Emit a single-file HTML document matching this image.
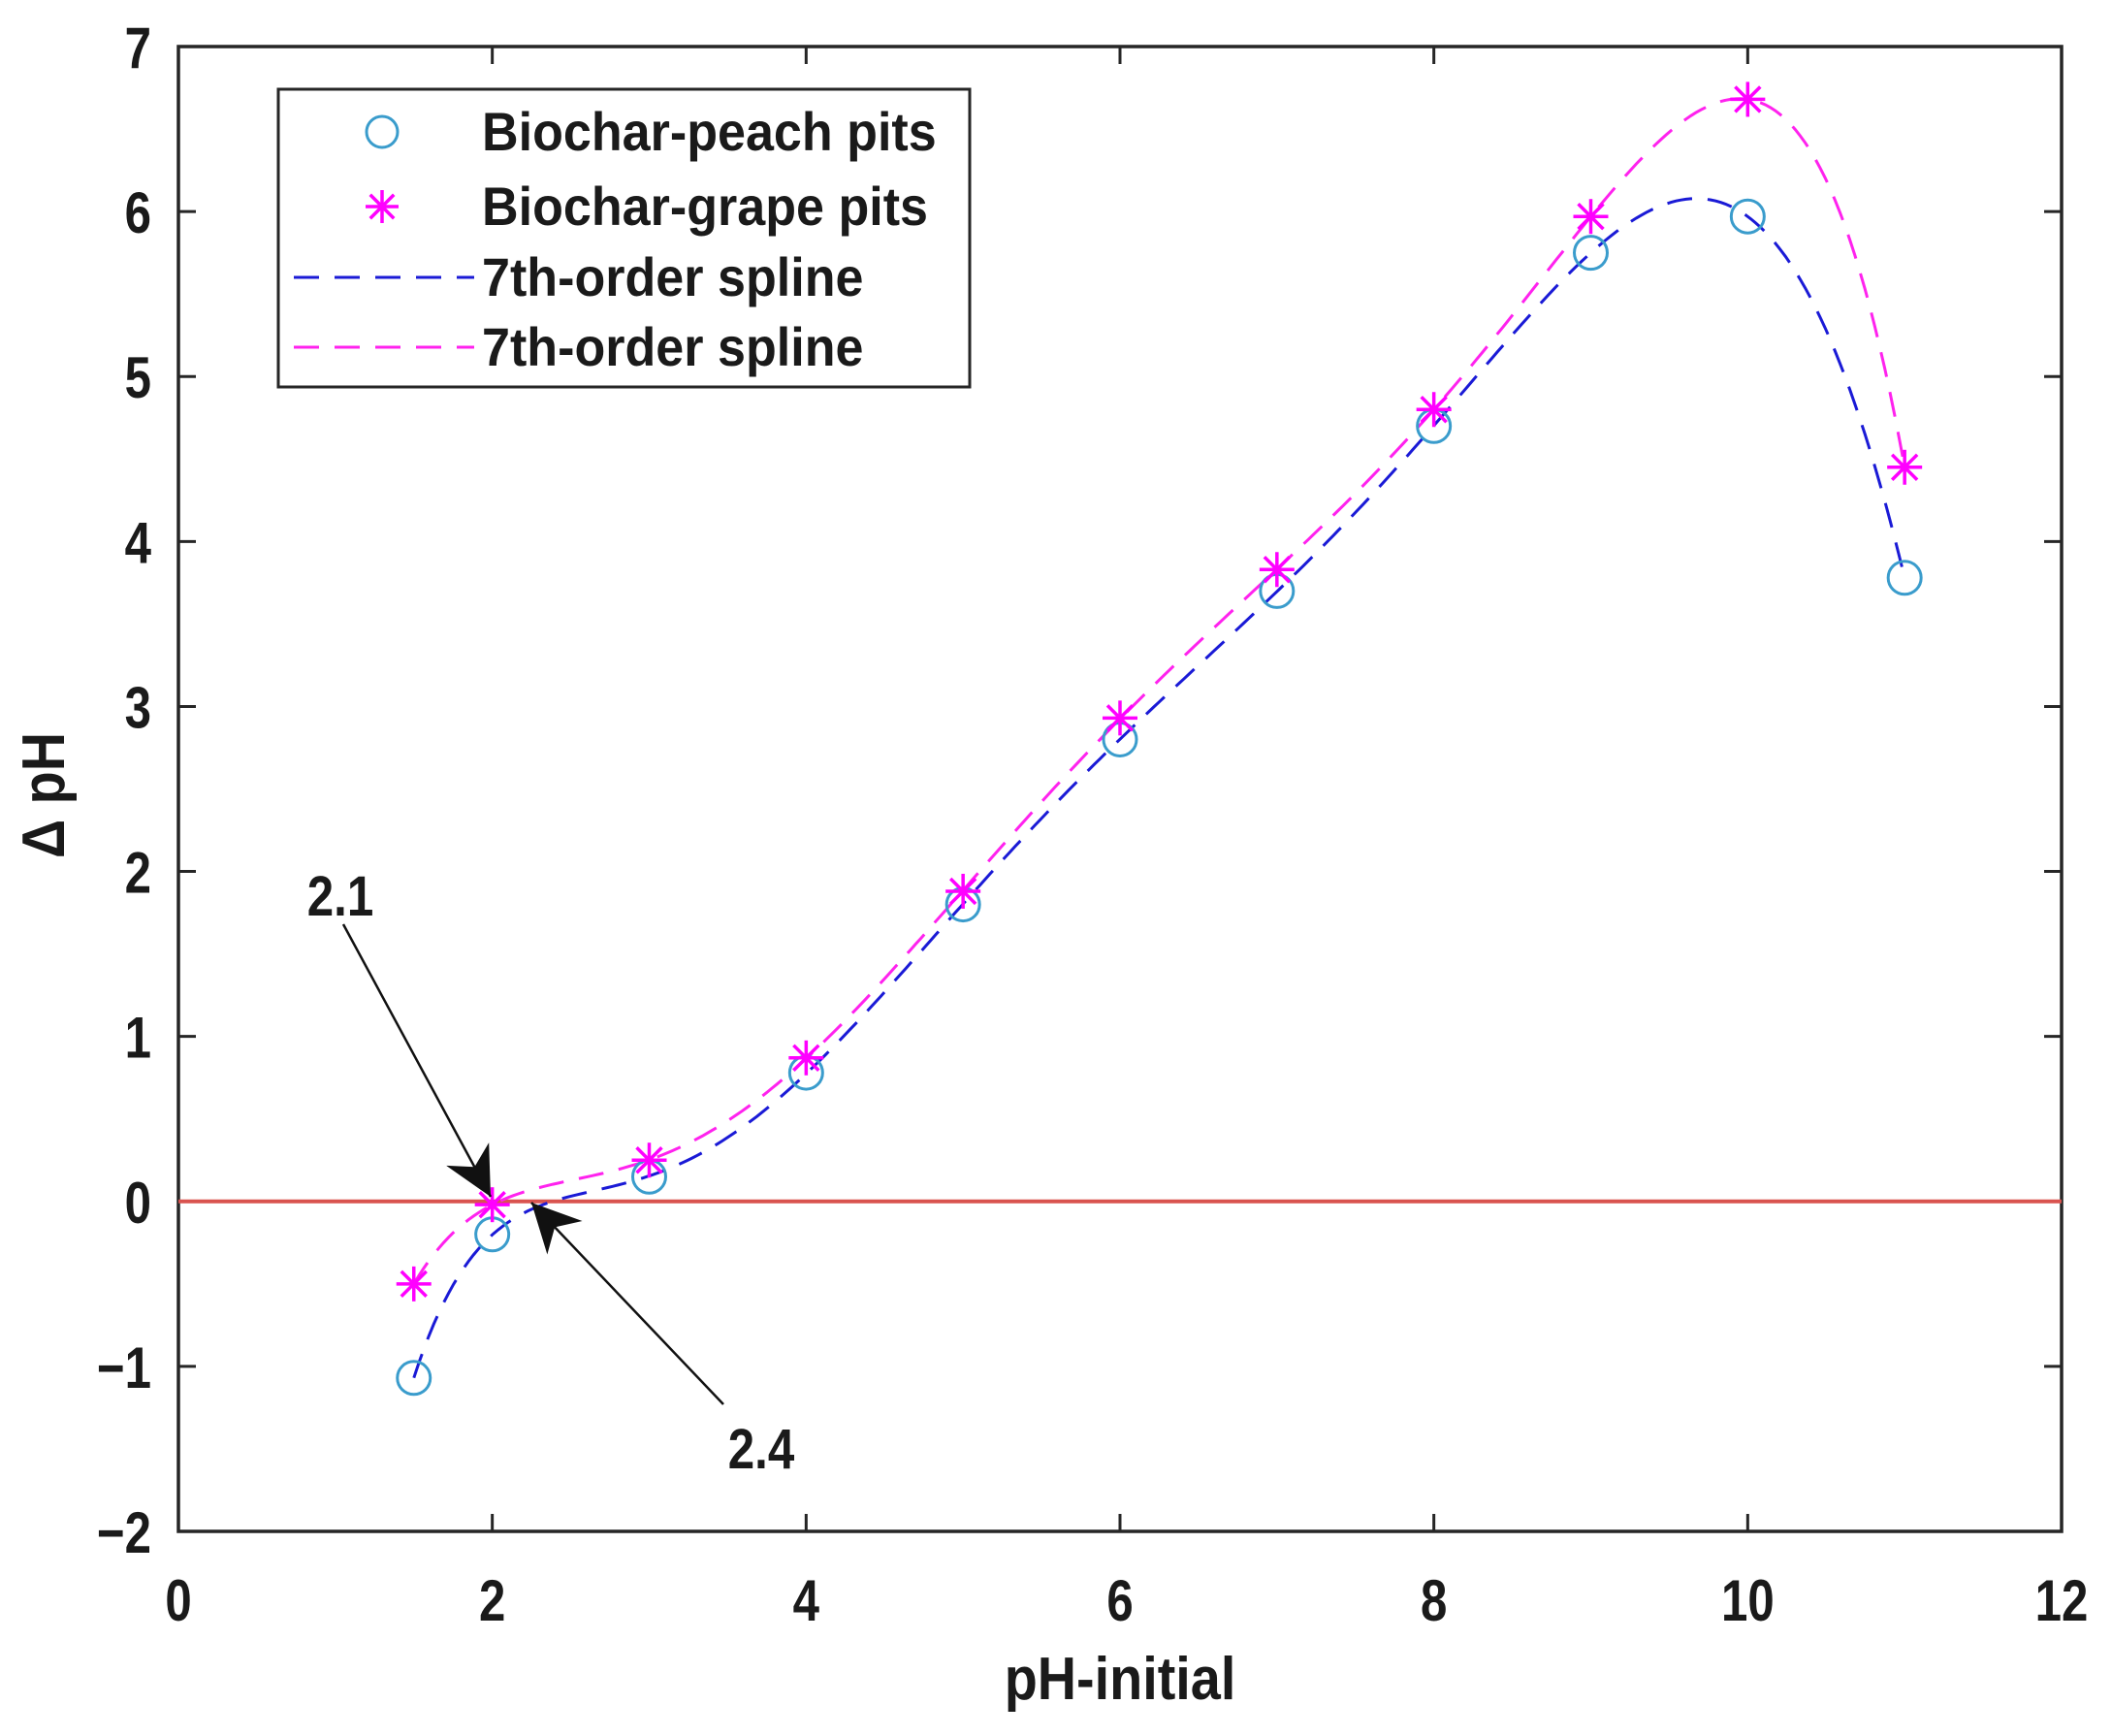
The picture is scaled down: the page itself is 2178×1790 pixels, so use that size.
<!DOCTYPE html>
<html><head><meta charset="utf-8"><style>
html,body{margin:0;padding:0;background:#fff;}
svg{display:block;}
text{font-family:"Liberation Sans",Arial,sans-serif;font-weight:bold;fill:#1a1a1a;}
</style></head><body>
<svg id="chart" width="2178" height="1790" viewBox="0 0 2178 1790" xmlns="http://www.w3.org/2000/svg">
<rect width="2178" height="1790" fill="#fff"/>
<g id="plot"></g>
</svg>
<script>
const xCats = [1.5, 2, 3, 4, 5, 6, 7, 8, 9, 10, 11];
const peachVals = [-1.07, -0.2, 0.15, 0.78, 1.8, 2.8, 3.7, 4.7, 5.75, 5.97, 3.78];
const grapeVals = [-0.5, -0.02, 0.25, 0.87, 1.88, 2.93, 3.83, 4.8, 5.97, 6.68, 4.45];
const xTicks = [0, 2, 4, 6, 8, 10, 12];
const yTicks = [-2, -1, 0, 1, 2, 3, 4, 5, 6, 7];

const L = 184, R = 2126, T = 48, B = 1579;
const xMin = 0, xMax = 12, yMin = -2, yMax = 7;
function sx(v){ return L + (v - xMin) / (xMax - xMin) * (R - L); }
function sy(v){ return B - (v - yMin) / (yMax - yMin) * (B - T); }

const NS = "http://www.w3.org/2000/svg";
const g = document.getElementById('plot');
function el(tag, attrs, parent){
  const e = document.createElementNS(NS, tag);
  for (const k in attrs) e.setAttribute(k, attrs[k]);
  (parent || g).appendChild(e);
  return e;
}
function ctext(x, y, str, size, anchor, sxf, parent){
  const t = el('text', {x: 0, y: 0, 'font-size': size, 'text-anchor': anchor || 'start',
    transform: 'translate(' + x + ',' + y + ') scale(' + sxf + ',1)'}, parent);
  t.textContent = str;
  return t;
}

function polyfit(xs, ys, deg){
  const m = 6, s = 5;
  const n = deg + 1;
  const A = [];
  for (let i = 0; i < n; i++){ A.push(new Array(n + 1).fill(0)); }
  for (let k = 0; k < xs.length; k++){
    const t = (xs[k] - m) / s;
    const p = [];
    for (let i = 0; i < n; i++) p.push(Math.pow(t, i));
    for (let i = 0; i < n; i++){
      for (let j = 0; j < n; j++) A[i][j] += p[i] * p[j];
      A[i][n] += p[i] * ys[k];
    }
  }
  for (let c = 0; c < n; c++){
    let piv = c;
    for (let r = c + 1; r < n; r++) if (Math.abs(A[r][c]) > Math.abs(A[piv][c])) piv = r;
    [A[c], A[piv]] = [A[piv], A[c]];
    for (let r = 0; r < n; r++){
      if (r === c) continue;
      const f = A[r][c] / A[c][c];
      for (let j = c; j <= n; j++) A[r][j] -= f * A[c][j];
    }
  }
  const coef = A.map((row, i) => row[n] / row[i]);
  return function(x){
    const t = (x - m) / s;
    let v = 0;
    for (let i = n - 1; i >= 0; i--) v = v * t + coef[i];
    return v;
  };
}

const frame = el('rect', {x: L, y: T, width: R - L, height: B - T, fill: 'none', stroke: '#262626', 'stroke-width': 3.5});



xTicks.forEach(v => {
  const x = sx(v);
  const t1 = el('line', {x1: x, y1: B, x2: x, y2: B - 18, stroke: '#262626', 'stroke-width': 3});
  
  
  const t2 = el('line', {x1: x, y1: T, x2: x, y2: T + 18, stroke: '#262626', 'stroke-width': 3});
  
  
  const lb = ctext(x, B + 92, String(v), 60, 'middle', 0.82);
  
  
});
yTicks.forEach(v => {
  const y = sy(v);
  const t1 = el('line', {x1: L, y1: y, x2: L + 18, y2: y, stroke: '#262626', 'stroke-width': 3});
  
  
  const t2 = el('line', {x1: R, y1: y, x2: R - 18, y2: y, stroke: '#262626', 'stroke-width': 3});
  
  
  const lb = ctext(L - 28, y + 22, v < 0 ? '\u2212' + Math.abs(v) : String(v), 60, 'end', 0.82);
  
  
});

const xt = ctext((L + R) / 2, 1752, 'pH-initial', 62, 'middle', 0.9);


const yt = el('text', {x: 0, y: 0, 'font-size': 62, 'text-anchor': 'middle', transform: 'translate(66,820) rotate(-90) scale(0.9,1)'});
yt.textContent = '\u0394 pH';



const zl = el('line', {x1: L, y1: sy(0), x2: R, y2: sy(0), stroke: '#d9534f', 'stroke-width': 4});



function curve(vals, color, name){
  const f = polyfit(xCats, vals, 7);
  let d = '';
  const x0 = xCats[0], x1 = xCats[xCats.length - 1];
  for (let i = 0; i <= 300; i++){
    const x = x0 + (x1 - x0) * i / 300;
    d += (i ? 'L' : 'M') + sx(x).toFixed(1) + ',' + sy(f(x)).toFixed(1);
  }
  const p = el('path', {d: d, fill: 'none', stroke: color, 'stroke-width': 3, 'stroke-dasharray': '26 16'});
  
  
}
curve(peachVals, '#1a1ad6', 'peach-spline');
curve(grapeVals, '#ff22ee', 'grape-spline');

function star(cx, cy, r, parent){
  const gg = el('g', {stroke: '#ff00ff', 'stroke-width': 3.5}, parent);
  el('line', {x1: cx - r, y1: cy, x2: cx + r, y2: cy}, gg);
  el('line', {x1: cx, y1: cy - r, x2: cx, y2: cy + r}, gg);
  const q = r * 0.72;
  el('line', {x1: cx - q, y1: cy - q, x2: cx + q, y2: cy + q}, gg);
  el('line', {x1: cx - q, y1: cy + q, x2: cx + q, y2: cy - q}, gg);
  return gg;
}
xCats.forEach((x, i) => {
  const c = el('circle', {cx: sx(x), cy: sy(peachVals[i]), r: 17, fill: 'none', stroke: '#3a9ccc', 'stroke-width': 3});
  
  
});
xCats.forEach((x, i) => {
  const s = star(sx(x), sy(grapeVals[i]), 18);
  
  
});

const defs = el('defs', {});
const mk = el('marker', {id: 'ah', viewBox: '0 0 10 10', refX: 10, refY: 5, markerWidth: 50, markerHeight: 50, orient: 'auto', markerUnits: 'userSpaceOnUse'}, defs);
el('path', {d: 'M0,0 L10,5 L0,10 L3,5 Z', fill: '#111'}, mk);
const a1 = el('line', {x1: 354, y1: 953, x2: 506, y2: 1234, stroke: '#111', 'stroke-width': 2.5, 'marker-end': 'url(#ah)'});


const a2 = el('line', {x1: 746, y1: 1448, x2: 548, y2: 1240, stroke: '#111', 'stroke-width': 2.5, 'marker-end': 'url(#ah)'});


const l1 = ctext(351, 944, '2.1', 58, 'middle', 0.85);


const l2 = ctext(785, 1514, '2.4', 58, 'middle', 0.85);



const lg = el('g', {});


el('rect', {x: 287, y: 92, width: 713, height: 307, fill: '#fff', stroke: '#262626', 'stroke-width': 3}, lg);
const e1 = el('circle', {cx: 394, cy: 136, r: 16, fill: 'none', stroke: '#3a9ccc', 'stroke-width': 3}, lg);


const e2 = star(394, 213, 17, lg);


const e3 = el('line', {x1: 303, y1: 286, x2: 489, y2: 286, stroke: '#1a1ad6', 'stroke-width': 3, 'stroke-dasharray': '26 16'}, lg);


const e4 = el('line', {x1: 303, y1: 358, x2: 489, y2: 358, stroke: '#ff22ee', 'stroke-width': 3, 'stroke-dasharray': '26 16'}, lg);


const labels = ['Biochar-peach pits', 'Biochar-grape pits', '7th-order spline', '7th-order spline'];
const ly = [155, 232, 305, 377];
labels.forEach((t, i) => {
  const tx = ctext(497, ly[i], t, 56, 'start', 0.93, lg);
  
  
});
</script>
</body></html>
